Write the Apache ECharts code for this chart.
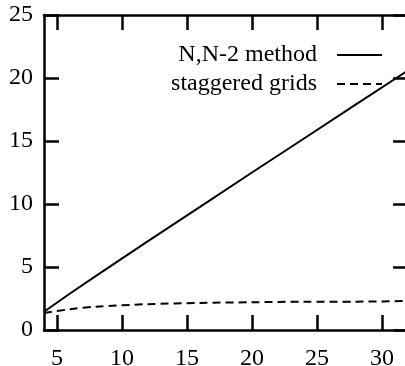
<!DOCTYPE html>
<html>
<head>
<meta charset="utf-8">
<script src="https://cdn.jsdelivr.net/npm/echarts@6/dist/echarts.min.js"></script>
<style>
  html, body { margin: 0; padding: 0; background: #fff; }
  #chart { width: 405px; height: 366px; }
</style>
</head>
<body>
<div id="chart"></div>
<script>
// values
var xValues = [4, 6, 8, 12, 16, 20, 24, 28, 32];
var nn2Method = [1.45, 2.9, 4.3, 7.05, 9.77, 12.5, 15.2, 17.9, 20.6];
var staggeredGrids = [1.35, 1.65, 1.85, 2.05, 2.15, 2.2, 2.25, 2.25, 2.3];
var xTicks = [5, 10, 15, 20, 25, 30];
var seriesNames = ["N,N-2 method", "staggered grids"];

function pairs(xs, ys) {
  return xs.map(function (x, i) { return [x, ys[i]]; });
}

var font = "Liberation Serif";
var black = "#000";

var myChart = echarts.init(document.getElementById("chart"));

var tickStyle = { show: true, inside: true, length: 15, lineStyle: { color: black, width: 2.5 } };
var xTickStyle = Object.assign({}, tickStyle, { customValues: xTicks });
var lineStyle = { show: true, onZero: false, lineStyle: { color: black, width: 2.5 } };

var option = {
  animation: false,
  backgroundColor: "#fff",
  grid: { left: 44, top: 15, right: -3, bottom: 36, containLabel: false, outerBoundsMode: "none" },
  legend: {
    orient: "vertical",
    right: 17,
    top: 38,
    align: "right",
    itemWidth: 45,
    itemHeight: 14,
    itemGap: 5,
    itemStyle: { opacity: 0 },
    textStyle: { fontFamily: font, fontSize: 24, lineHeight: 24, color: black, padding: [0, 15, 0, 0] },
    data: seriesNames
  },
  xAxis: [
    {
      type: "value", min: 4, max: 32,
      axisLine: lineStyle, axisTick: xTickStyle, splitLine: { show: false },
      axisLabel: { fontFamily: font, fontSize: 24, color: black, margin: 17, customValues: xTicks }
    },
    {
      type: "value", position: "top", min: 4, max: 32,
      axisLine: lineStyle, axisTick: xTickStyle, splitLine: { show: false },
      axisLabel: { show: false }
    }
  ],
  yAxis: [
    {
      type: "value", min: 0, max: 25, interval: 5,
      axisLine: lineStyle, axisTick: tickStyle, splitLine: { show: false },
      axisLabel: { fontFamily: font, fontSize: 24, color: black, margin: 11 }
    },
    {
      type: "value", position: "right", min: 0, max: 25, interval: 5,
      axisLine: lineStyle, axisTick: tickStyle, splitLine: { show: false },
      axisLabel: { show: false }
    }
  ],
  series: [
    {
      name: seriesNames[0], type: "line", symbol: "none",
      data: pairs(xValues, nn2Method),
      itemStyle: { color: black },
      lineStyle: { color: black, width: 2, type: "solid" }
    },
    {
      name: seriesNames[1], type: "line", symbol: "none", smooth: 0.3,
      data: pairs(xValues, staggeredGrids),
      itemStyle: { color: black },
      lineStyle: { color: black, width: 2, type: [8, 5] }
    }
  ]
};

myChart.setOption(option);
</script>
</body>
</html>
